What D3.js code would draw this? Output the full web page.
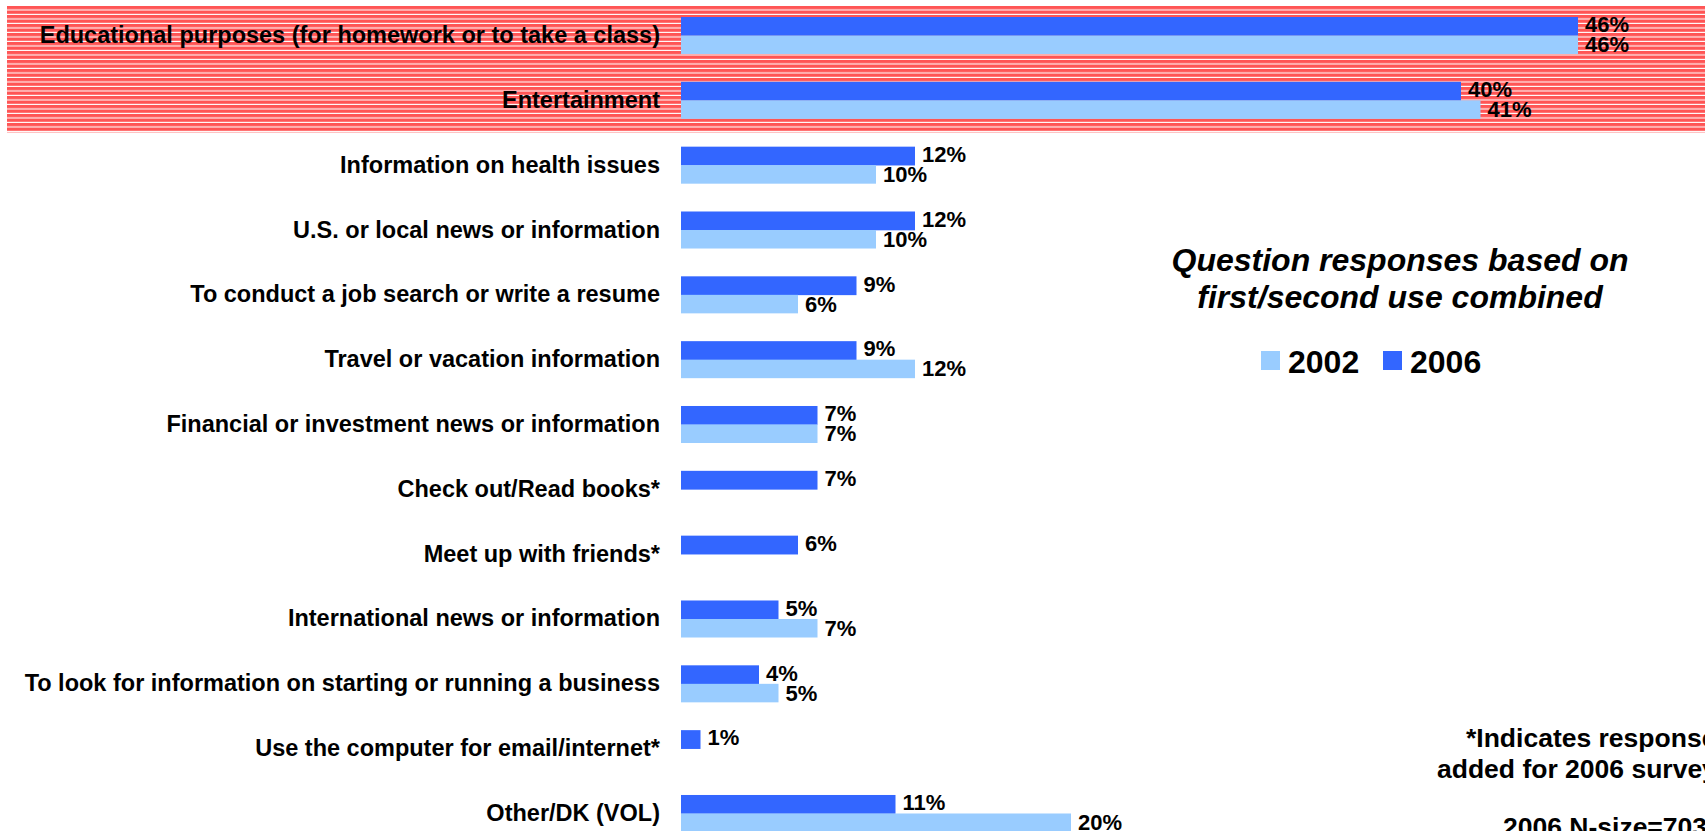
<!DOCTYPE html>
<html><head><meta charset="utf-8">
<script src="https://cdn.jsdelivr.net/npm/d3@7"></script>
<style>html,body{margin:0;padding:0;background:#fff;overflow:hidden}</style>
</head><body>
<script>
const categories = [
  "Educational purposes (for homework or to take a class)",
  "Entertainment",
  "Information on health issues",
  "U.S. or local news or information",
  "To conduct a job search or write a resume",
  "Travel or vacation information",
  "Financial or investment news or information",
  "Check out/Read books*",
  "Meet up with friends*",
  "International news or information",
  "To look for information on starting or running a business",
  "Use the computer for email/internet*",
  "Other/DK (VOL)"
];
const values2006 = [46, 40, 12, 12, 9, 9, 7, 7, 6, 5, 4, 1, 11];
const values2002 = [46, 41, 10, 10, 6, 12, 7, null, null, 7, 5, null, 20];
const highlighted = ["Educational purposes (for homework or to take a class)", "Entertainment"];
const seriesNames = ["2006", "2002"];
const legendOrder = ["2002", "2006"];
const titleLines = ["Question responses based on", "first/second use combined"];
const noteLines = ["*Indicates responses", "added for 2006 survey", "2006 N-size=703"];

const W = 1705, H = 831;
const colors = {"2006": "#3366FF", "2002": "#99CCFF"};
const svg = d3.select("body").append("svg").attr("width", W).attr("height", H)
  .style("font-family", "'Liberation Sans', Arial, sans-serif");

const defs = svg.append("defs");
const pat = defs.append("pattern").attr("id", "stripes").attr("patternUnits", "userSpaceOnUse")
  .attr("width", 10).attr("height", 4.5).attr("y", 6);
pat.append("rect").attr("width", 10).attr("height", 4.5).attr("fill", "#FF5555");
pat.append("rect").attr("y", 3.4).attr("width", 10).attr("height", 1.1).attr("fill", "#ffffff");

const x = d3.scaleLinear().domain([0, 46]).range([681, 1578]);
const y = d3.scaleBand().domain(categories).range([17, 832]).paddingInner(0.429).paddingOuter(0);
const ySub = d3.scaleBand().domain(seriesNames).range([0, y.bandwidth()]);

// highlight band
const hTop = y(highlighted[0]) - 11;
const hBot = y(highlighted[highlighted.length - 1]) + y.bandwidth() + 13.5;
svg.append("rect").attr("x", 7).attr("y", hTop).attr("width", W - 7).attr("height", hBot - hTop)
  .attr("fill", "url(#stripes)");

const rows = categories.map((c, i) => ({cat: c, vals: {"2006": values2006[i], "2002": values2002[i]}}));

const g = svg.append("g");
rows.forEach(r => {
  seriesNames.forEach(s => {
    const v = r.vals[s];
    if (v == null) return;
    const top = y(r.cat) + ySub(s);
    g.append("rect").attr("x", x(0)).attr("y", top)
      .attr("width", x(v) - x(0)).attr("height", ySub.bandwidth() + (s === "2006" ? 0.3 : 0))
      .attr("fill", colors[s]);
    g.append("text").attr("x", x(v) + 7).attr("y", top + (s === "2006" ? 15.3 : 16.8))
      .attr("font-size", 22).attr("font-weight", "bold").attr("fill", "#000")
      .text(v + "%");
  });
  g.append("text").attr("x", 660).attr("y", y(r.cat) + y.bandwidth() / 2 + 7.5)
    .attr("text-anchor", "end").attr("font-size", 23.5).attr("font-weight", "bold")
    .attr("fill", "#000").text(r.cat);
});

// legend title
titleLines.forEach((t, i) => {
  svg.append("text").attr("x", 1400).attr("y", 271 + i * 37).attr("text-anchor", "middle")
    .attr("font-size", 32).attr("font-weight", "bold").attr("font-style", "italic").text(t);
});
// legend items
const legX = {"2002": 1261, "2006": 1383};
legendOrder.forEach(s => {
  svg.append("rect").attr("x", legX[s]).attr("y", 351).attr("width", 19).attr("height", 19).attr("fill", colors[s]);
  svg.append("text").attr("x", legX[s] + 27).attr("y", 372.5).attr("font-size", 32)
    .attr("font-weight", "bold").text(s);
});
// footnote
const noteX = [1466, 1437, 1503];
const noteY = [746.5, 777.5, 835.5];
noteLines.forEach((t, i) => {
  svg.append("text").attr("x", noteX[i]).attr("y", noteY[i]).attr("font-size", 26.5)
    .attr("font-weight", "bold").text(t);
});
</script>
</body></html>
